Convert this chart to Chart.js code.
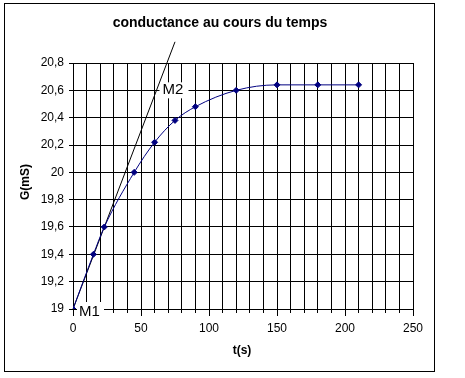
<!DOCTYPE html>
<html>
<head>
<meta charset="utf-8">
<script src="https://cdn.jsdelivr.net/npm/chart.js@4.4.0/dist/chart.umd.min.js"></script>
<style>
  html, body { margin: 0; padding: 0; background: #ffffff; }
  #wrap { width: 465px; height: 378px; }
</style>
</head>
<body>
<div id="wrap"><canvas id="c" width="465" height="378"></canvas></div>
<script>
// ---- data ----
const times = [0, 15, 23, 45, 60, 75, 90, 120, 150, 180, 210];
const conductance = [19, 19.4, 19.6, 20.0, 20.22, 20.38, 20.48, 20.6, 20.64, 20.64, 20.64];
const tangentT = [0, 75];
const tangentG = [19, 20.955];
const xTickLabels = [0, 50, 100, 150, 200, 250];
const titleText = "conductance au cours du temps";
const xTitle = "t(s)";
const yTitle = "G(mS)";
const pointLabels = [ { text: "M1", t: 0, g: 19 }, { text: "M2", t: 61.4, g: 20.6 } ];

const FONT = '"Liberation Sans", Arial, sans-serif';
Chart.defaults.font.family = FONT;
Chart.defaults.color = '#000000';

const fmt = v => Number(v.toFixed(1)).toString().replace('.', ',');

const decor = {
  id: 'decor',
  beforeDatasetsDraw(chart) {
    const ctx = chart.ctx;
    const xs = chart.scales.x, ys = chart.scales.y;
    ctx.save();
    ctx.strokeStyle = '#000';
    ctx.lineWidth = 1;
    xTickLabels.forEach(v => {
      const px = Math.round(xs.getPixelForValue(v)) + 0.5;
      ctx.beginPath();
      ctx.moveTo(px, ys.bottom + 4);
      ctx.lineTo(px, ys.bottom + 7);
      ctx.stroke();
    });
    ctx.fillStyle = '#fff';
    const p1 = pointLabels[0], p2 = pointLabels[1];
    const m1x = xs.getPixelForValue(p1.t), m1y = ys.getPixelForValue(p1.g);
    ctx.fillRect(m1x + 4, m1y - 7, 27, 17);
    const m2x = xs.getPixelForValue(p2.t), m2y = ys.getPixelForValue(p2.g);
    ctx.fillRect(m2x + 3, m2y - 8, 29, 16);
    ctx.font = '15px ' + FONT;
    ctx.fillStyle = '#000';
    ctx.textBaseline = 'middle';
    ctx.textAlign = 'left';
    ctx.fillText(p1.text, m1x + 6, m1y + 3);
    ctx.fillText(p2.text, m2x + 6, m2y + 0);
    ctx.restore();
  },
  afterDraw(chart) {
    const ctx = chart.ctx;
    ctx.save();
    ctx.strokeStyle = '#000';
    ctx.lineWidth = 1;
    ctx.strokeRect(4.5, 3.5, 430, 368);
    ctx.fillStyle = '#000';
    ctx.textAlign = 'center';
    ctx.textBaseline = 'middle';
    ctx.font = 'bold 14px ' + FONT;
    ctx.fillText(titleText, 220, 23);
    ctx.font = 'bold 12px ' + FONT;
    ctx.fillText(xTitle, 242, 351);
    ctx.translate(26, 182);
    ctx.rotate(-Math.PI / 2);
    ctx.fillText(yTitle, 0, 0);
    ctx.restore();
  }
};

new Chart(document.getElementById('c'), {
  type: 'scatter',
  data: {
    datasets: [
      {
        label: 'tangente',
        data: tangentT.map((t, i) => ({ x: t, y: tangentG[i] })),
        showLine: true,
        borderColor: '#000000',
        borderWidth: 1,
        pointRadius: 0,
        clip: false,
        order: 2
      },
      {
        label: 'G',
        data: times.map((t, i) => ({ x: t, y: conductance[i] })),
        showLine: true,
        borderColor: '#000080',
        backgroundColor: '#000080',
        borderWidth: 1,
        cubicInterpolationMode: 'monotone',
        pointStyle: 'rectRot',
        pointRadius: 3,
        pointBorderWidth: 1,
        pointBorderColor: '#000080',
        pointBackgroundColor: '#000080',
        order: 1
      }
    ]
  },
  options: {
    responsive: false,
    animation: false,
    devicePixelRatio: 1,
    layout: { padding: { left: 0, top: 63, right: 52, bottom: 0 } },
    plugins: { legend: { display: false }, tooltip: { enabled: false }, title: { display: false } },
    scales: {
      x: {
        type: 'linear',
        min: 0, max: 250,
        afterFit: s => { s.height = 69; },
        ticks: {
          stepSize: 10,
          autoSkip: false,
          maxRotation: 0,
          padding: 8,
          font: { size: 12 },
          color: '#000',
          callback: v => xTickLabels.includes(v) ? String(v) : ''
        },
        grid: { color: '#000', lineWidth: 1, tickLength: 4, tickColor: '#000' },
        border: { color: '#000', width: 1 }
      },
      y: {
        type: 'linear',
        min: 19, max: 20.8,
        afterFit: s => { s.width = 73; },
        ticks: {
          stepSize: 0.2,
          autoSkip: false,
          padding: 5,
          font: { size: 12 },
          color: '#000',
          callback: v => fmt(v)
        },
        grid: { color: '#000', lineWidth: 1, tickLength: 4, tickColor: '#000' },
        border: { color: '#000', width: 1 }
      }
    }
  },
  plugins: [decor]
});
</script>
</body>
</html>
